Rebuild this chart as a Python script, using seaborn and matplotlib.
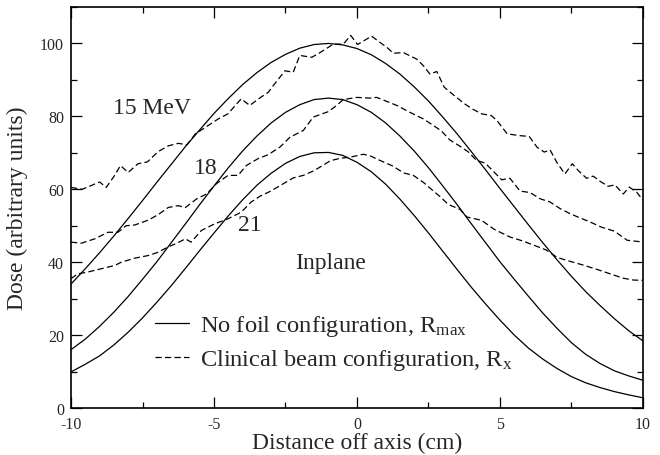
import numpy as np
import pandas as pd
import matplotlib
matplotlib.use("Agg")
import matplotlib.pyplot as plt
import seaborn as sns
from matplotlib.ticker import MultipleLocator

# ---- data ----
x_solid = [-10.0, -9.5, -9.0, -8.5, -8.0, -7.5, -7.0, -6.5, -6.0, -5.5, -5.0,
           -4.5, -4.0, -3.5, -3.0, -2.5, -2.0, -1.5, -1.0, -0.5, 0.0,
           0.5, 1.0, 1.5, 2.0, 2.5, 3.0, 3.5, 4.0, 4.5, 5.0,
           5.5, 6.0, 6.5, 7.0, 7.5, 8.0, 8.5, 9.0, 9.5, 10.0]
solid_15 = [34.0, 38.2, 42.6, 47.2, 52.0, 56.9, 61.9, 66.8, 71.7, 76.3, 80.8,
            84.9, 88.7, 92.0, 94.8, 97.0, 98.7, 99.7, 100.0, 99.6, 98.6,
            96.9, 94.5, 91.6, 88.1, 84.2, 79.8, 75.2, 70.3, 65.3, 60.2,
            55.2, 50.2, 45.3, 40.6, 36.1, 31.9, 28.1, 24.5, 21.2, 18.4]
solid_18 = [16.0, 18.9, 22.4, 26.3, 30.6, 35.3, 40.1, 45.3, 50.5, 55.8, 60.9,
            65.9, 70.5, 74.6, 78.2, 81.1, 83.2, 84.6, 85.0, 84.6, 83.2,
            81.1, 78.2, 74.6, 70.5, 65.9, 60.9, 55.8, 50.5, 45.3, 40.1,
            35.3, 30.6, 26.0, 21.8, 17.9, 14.7, 12.2, 10.2, 8.8, 7.6]
solid_21 = [9.9, 12.0, 14.3, 17.3, 20.8, 24.7, 29.0, 33.5, 38.3, 43.2, 48.0,
            52.7, 57.1, 61.1, 64.4, 67.1, 69.0, 70.0, 70.1, 69.3, 67.4,
            64.8, 61.4, 57.3, 52.8, 48.0, 43.0, 38.0, 33.1, 28.5, 24.1,
            20.0, 16.4, 13.4, 10.8, 8.6, 6.9, 5.6, 4.5, 3.6, 2.8]

x_dash_15 = [-10.0, -9.6, -9.3, -9.0, -8.77, -8.5, -8.27, -8.0, -7.66, -7.33,
             -6.96, -6.6, -6.25, -5.95, -5.65, -5.2, -4.85, -4.51, -4.05, -3.75,
             -3.37, -3.1, -2.93, -2.52, -2.23, -2.0, -1.58, -1.29, -0.83, -0.48,
             -0.22, 0.02, 0.51, 0.8, 1.05, 1.27, 1.62, 2.09, 2.32, 2.55,
             2.79, 3.05, 3.4, 3.75, 4.04, 4.35, 4.7, 4.9, 5.25, 5.7,
             6.02, 6.3, 6.55, 6.75, 7.0, 7.27, 7.53, 7.74, 8.03, 8.26,
             8.5, 8.78, 9.02, 9.31, 9.52, 9.78, 10.0]
dash_15 = [60.5, 60.0, 61.0, 62.0, 60.5, 63.5, 66.5, 64.6, 67.0, 67.5,
           70.3, 71.9, 72.6, 72.2, 75.2, 77.5, 79.3, 80.7, 84.8, 83.0,
           85.2, 86.6, 88.4, 92.5, 92.1, 96.7, 96.2, 97.5, 99.8, 99.8,
           102.2, 99.7, 102.0, 100.3, 98.9, 97.3, 97.5, 95.7, 93.9, 91.6,
           92.3, 88.0, 85.7, 83.5, 82.0, 80.7, 80.2, 78.8, 75.2, 74.7,
           74.5, 71.5, 70.2, 70.8, 67.2, 64.2, 67.0, 65.1, 63.0, 63.6,
           62.2, 60.8, 61.2, 58.7, 60.6, 59.2, 57.0]

x_dash_18 = [-10.0, -9.64, -9.17, -8.71, -8.36, -8.07, -7.77, -7.31, -6.96, -6.6,
             -6.26, -6.0, -5.6, -5.26, -4.92, -4.51, -4.16, -3.87, -3.46, -3.1,
             -2.69, -2.34, -1.88, -1.53, -1.0, -0.71, -0.48, -0.01, 0.45, 0.69,
             1.04, 1.39, 1.85, 2.32, 2.67, 2.95, 3.25, 3.6, 3.9, 4.18,
             4.48, 4.77, 5.06, 5.35, 5.7, 6.05, 6.4, 6.75, 7.1, 7.45,
             7.75, 8.1, 8.55, 9.0, 9.45, 9.7, 10.0]
dash_18 = [45.5, 45.2, 46.4, 48.2, 48.2, 50.0, 50.2, 51.5, 53.0, 55.0,
           55.5, 55.0, 57.4, 58.7, 61.5, 63.8, 63.8, 66.5, 68.4, 69.5,
           71.6, 74.3, 76.1, 79.8, 81.3, 83.0, 84.6, 85.2, 85.0, 85.2,
           84.1, 83.0, 81.1, 79.3, 77.5, 76.0, 73.5, 71.8, 70.2, 67.9,
           67.2, 64.9, 62.6, 63.0, 59.5, 59.1, 57.4, 56.5, 54.7, 53.3,
           52.3, 51.2, 49.6, 48.5, 46.0, 45.8, 45.5]

x_dash_21 = [-10.0, -9.76, -9.41, -8.94, -8.47, -8.24, -7.77, -7.31, -6.96, -6.6,
             -6.3, -6.0, -5.8, -5.44, -4.98, -4.51, -4.05, -3.7, -3.39, -3.04,
             -2.69, -2.23, -1.88, -1.53, -1.18, -0.94, -0.59, -0.24, 0.22, 0.45,
             0.75, 1.27, 1.62, 1.97, 2.32, 2.6, 2.9, 3.2, 3.6, 3.84,
             4.35, 4.8, 5.35, 5.8, 6.2, 6.6, 7.0, 7.33, 7.91, 8.4,
             8.85, 9.31, 9.66, 10.0]
dash_21 = [35.5, 36.8, 37.3, 38.2, 39.1, 40.0, 41.1, 41.8, 42.7, 44.2,
           45.2, 46.4, 45.5, 48.7, 50.5, 51.9, 53.7, 56.5, 58.1, 59.4,
           61.0, 63.1, 63.8, 65.0, 66.6, 67.8, 68.5, 68.8, 69.6, 69.2,
           68.1, 66.3, 64.5, 63.8, 61.9, 60.0, 58.0, 55.8, 54.5, 52.4,
           51.5, 49.0, 46.9, 45.8, 44.6, 43.4, 41.3, 40.5, 39.2, 38.0,
           36.8, 35.6, 35.1, 35.0]

energy_labels = ["15 MeV", "18", "21"]
legend_labels = [r"No foil configuration, R$_{\mathrm{max}}$",
                 r"Clinical beam configuration, R$_{\mathrm{x}}$"]
x_label = "Distance off axis (cm)"
y_label = "Dose (arbitrary units)"
annot_text = "Inplane"

# ---- style ----
sns.set_style("ticks")
plt.rcParams["font.family"] = ["Liberation Serif", "DejaVu Serif"]
plt.rcParams["mathtext.fontset"] = "custom"
plt.rcParams["mathtext.rm"] = "Liberation Serif"
plt.rcParams["mathtext.it"] = "Liberation Serif:italic"
plt.rcParams["mathtext.bf"] = "Liberation Serif:bold"
plt.rcParams["axes.unicode_minus"] = False

fig = plt.figure(figsize=(6.6, 4.56), dpi=100)
ax = fig.add_axes([0.1076, 0.1031, 0.8666, 0.8794])

lw = 0.9
dash_style = (0, (5, 2.6))

solids = [solid_15, solid_18, solid_21]
dashes = [(x_dash_15, dash_15), (x_dash_18, dash_18), (x_dash_21, dash_21)]

for i, ys in enumerate(solids):
    df = pd.DataFrame({"x": x_solid, "y": ys})
    sns.lineplot(data=df, x="x", y="y", ax=ax, color="black", linewidth=lw,
                 label=legend_labels[0] if i == 0 else None)
for i, (xs, ys) in enumerate(dashes):
    df = pd.DataFrame({"x": xs, "y": ys})
    sns.lineplot(data=df, x="x", y="y", ax=ax, color="black", linewidth=lw,
                 linestyle=dash_style,
                 label=legend_labels[1] if i == 0 else None)

ax.set_xlim(-10, 10)
ax.set_ylim(0, 110)
ax.xaxis.set_major_locator(MultipleLocator(5))
ax.xaxis.set_minor_locator(MultipleLocator(2.5))
ax.yaxis.set_major_locator(MultipleLocator(20))
ax.yaxis.set_minor_locator(MultipleLocator(10))
ax.set_yticks([0, 20, 40, 60, 80, 100])
ax.tick_params(which="both", direction="in", top=True, right=True,
               labelsize=11.5, width=0.9, color="black")
ax.tick_params(axis="y", which="major", pad=5)
ax.tick_params(axis="x", which="major", pad=6)
ax.tick_params(which="major", length=8)
ax.tick_params(which="minor", length=4)
for s in ax.spines.values():
    s.set_linewidth(1.2)
    s.set_color("black")

ax.set_xlabel(x_label, fontsize=17, labelpad=0)
ax.set_ylabel(y_label, fontsize=17, labelpad=9)

ax.text(-7.17, 82.5, energy_labels[0], fontsize=17, ha="center", va="center")
ax.text(-5.28, 66.0, energy_labels[1], fontsize=17, ha="center", va="center")
ax.text(-3.74, 50.4, energy_labels[2], fontsize=17, ha="center", va="center")
ax.text(-0.91, 40.0, annot_text, fontsize=17, ha="center", va="center")

leg = ax.legend(frameon=False, loc="upper left", bbox_to_anchor=(0.147, 0.236),
                borderpad=0, borderaxespad=0, handlelength=1.4,
                handletextpad=0.45, labelspacing=0.36, fontsize=17.6)

fig.savefig("out.png", dpi=100)
